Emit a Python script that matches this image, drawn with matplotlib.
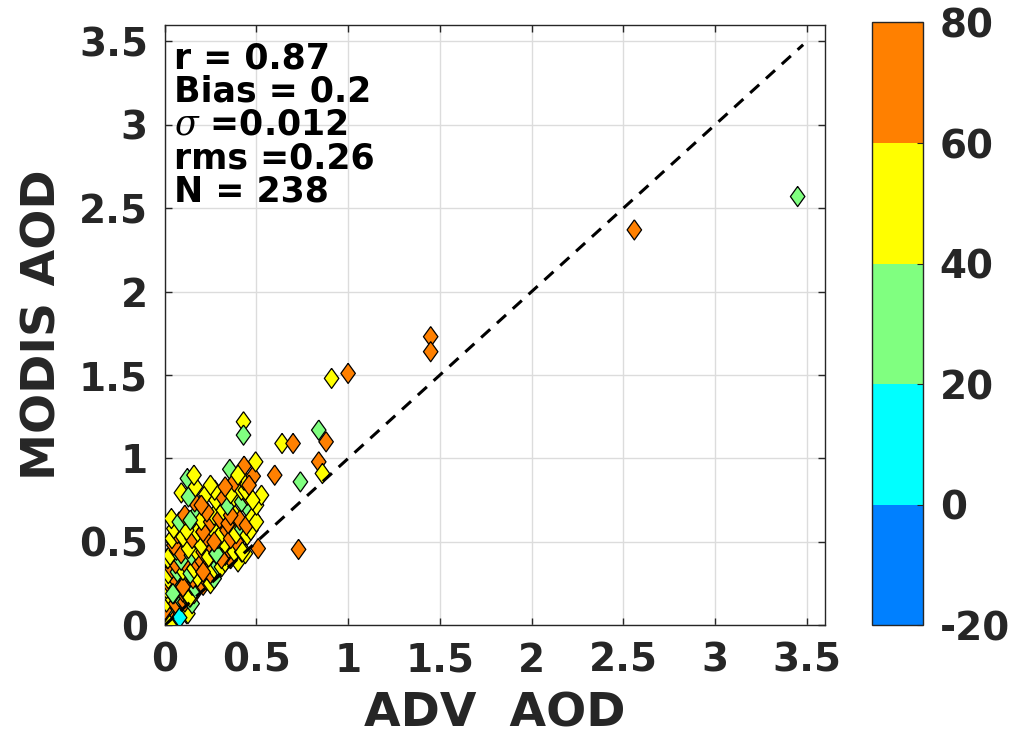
import numpy as np
import matplotlib
matplotlib.use("Agg")
import matplotlib.pyplot as plt
from matplotlib.colors import ListedColormap, BoundaryNorm

# ADV AOD (x), MODIS AOD (y) and colour value
adv_aod = [
    # near the origin
    0.01, 0.02, 0.03, 0.00, 0.05, 0.04, 0.06, 0.10, 0.12, 0.02, 0.07, 0.09, 0.03, 0.127, 0.00, 0.027,
    # 0.1 - 0.2
    0.01, 0.04, 0.06, 0.08, 0.11, 0.13, 0.15, 0.02, 0.05, 0.10, 0.14, 0.16, 0.045, 0.12, 0.137,
    # 0.2 - 0.3
    0.01, 0.03, 0.06, 0.08, 0.10, 0.12, 0.15, 0.17, 0.19, 0.21, 0.23, 0.25, 0.02, 0.05, 0.155, 0.18, 0.27,
    0.045, 0.10,
    # 0.3 - 0.4
    0.02, 0.04, 0.07, 0.10, 0.12, 0.14, 0.16, 0.18, 0.21, 0.23, 0.25, 0.27, 0.29, 0.31, 0.06, 0.09, 0.20,
    0.33, 0.40, 0.015, 0.36, 0.018, 0.21,
    # 0.4 - 0.5
    0.03, 0.064, 0.09, 0.146, 0.17, 0.21, 0.24, 0.26, 0.28, 0.30, 0.33, 0.35, 0.38, 0.42, 0.44, 0.118,
    0.20, 0.328, 0.392, 0.05, 0.13, 0.31, 0.282, 0.424,
    # 0.5 - 0.6
    0.04, 0.07, 0.10, 0.137, 0.15, 0.18, 0.21, 0.23, 0.26, 0.29, 0.31, 0.34, 0.36, 0.39, 0.42, 0.45,
    0.47, 0.12, 0.27, 0.05, 0.21,
    # 0.6 - 0.7
    0.037, 0.08, 0.11, 0.173, 0.20, 0.251, 0.27, 0.30, 0.346, 0.383, 0.41, 0.446, 0.455, 0.48, 0.50,
    0.23, 0.32, 0.14, 0.36,
    # 0.7 - 0.8
    0.091, 0.164, 0.224, 0.343, 0.379, 0.501, 0.528, 0.20, 0.28, 0.31, 0.42, 0.45, 0.48, 0.36, 0.13,
    # 0.8 - 1.0
    0.124, 0.168, 0.273, 0.419, 0.44, 0.433, 0.483, 0.496, 0.433, 0.355, 0.38, 0.40, 0.46, 0.25, 0.33,
    0.16,
    # outside the cluster
    0.43, 0.43, 0.64, 0.70, 0.84, 0.88, 0.84, 0.86, 0.74, 0.60, 0.51, 0.73, 0.91, 1.00, 1.45, 1.45,
    2.56, 3.45,
    # cyan point near the origin
    0.082,
]
modis_aod = [
    0.02, 0.04, 0.01, 0.03, 0.06, 0.09, 0.03, 0.08, 0.07, 0.08, 0.10, 0.12, 0.12, 0.07, 0.09, 0.00,
    0.14, 0.16, 0.13, 0.17, 0.14, 0.16, 0.13, 0.19, 0.19, 0.20, 0.17, 0.19, 0.19, 0.19, 0.17,
    0.22, 0.24, 0.23, 0.26, 0.23, 0.27, 0.24, 0.22, 0.26, 0.24, 0.27, 0.25, 0.28, 0.29, 0.28, 0.29, 0.28,
    0.19, 0.23,
    0.31, 0.34, 0.32, 0.33, 0.36, 0.31, 0.34, 0.37, 0.32, 0.35, 0.31, 0.34, 0.36, 0.35, 0.37, 0.39, 0.39,
    0.38, 0.38, 0.40, 0.40, 0.40, 0.32,
    0.42, 0.45, 0.43, 0.42, 0.45, 0.44, 0.41, 0.47, 0.43, 0.45, 0.42, 0.46, 0.44, 0.44, 0.43, 0.49,
    0.48, 0.49, 0.50, 0.48, 0.46, 0.40, 0.43, 0.44,
    0.52, 0.55, 0.53, 0.59, 0.52, 0.56, 0.56, 0.53, 0.58, 0.52, 0.55, 0.57, 0.52, 0.55, 0.58, 0.54,
    0.57, 0.57, 0.50, 0.58, 0.56,
    0.64, 0.62, 0.66, 0.67, 0.63, 0.62, 0.66, 0.64, 0.61, 0.66, 0.63, 0.60, 0.70, 0.65, 0.62,
    0.68, 0.69, 0.63, 0.66,
    0.794, 0.74, 0.784, 0.72, 0.77, 0.72, 0.78, 0.72, 0.75, 0.78, 0.74, 0.78, 0.75, 0.79, 0.77,
    0.88, 0.83, 0.81, 0.81, 0.81, 0.87, 0.894, 0.98, 0.954, 0.935, 0.86, 0.90, 0.84, 0.84, 0.83,
    0.90,
    1.22, 1.14, 1.09, 1.09, 1.17, 1.10, 0.98, 0.91, 0.86, 0.90, 0.46, 0.455, 1.48, 1.51, 1.73, 1.64,
    2.37, 2.57,
    0.046,
]
colour_value = [
    50, 70, 50, 70, 70, 50, 30, 50, 50, 70, 70, 50, 30, 50, 70, 50,
    50, 70, 70, 30, 70, 50, 30, 50, 30, 70, 50, 70, 30, 70, 50,
    50, 70, 50, 30, 70, 50, 70, 30, 50, 70, 70, 50, 50, 70, 70, 50, 30,
    30, 70,
    50, 70, 30, 50, 70, 30, 50, 70, 50, 70, 70, 50, 30, 50, 70, 30, 70,
    50, 50, 50, 70, 50, 70,
    50, 30, 70, 30, 50, 70, 50, 70, 30, 50, 70, 70, 50, 50, 50, 50,
    50, 50, 70, 70, 50, 70, 30, 50,
    50, 70, 50, 30, 70, 50, 30, 70, 50, 30, 50, 70, 70, 50, 30, 50,
    50, 50, 70, 50, 70,
    50, 30, 70, 30, 50, 70, 50, 70, 70, 50, 70, 70, 30, 50, 50,
    70, 50, 30, 70,
    50, 70, 50, 30, 50, 50, 50, 70, 50, 70, 30, 70, 50, 50, 30,
    30, 50, 50, 50, 50, 50, 70, 50, 70, 30, 70, 50, 70, 50, 70,
    50,
    50, 30, 50, 70, 30, 70, 70, 50, 30, 70, 70, 70, 50, 70, 70, 70,
    70, 30,
    10,
]

stats_lines = ["r = 0.87", "Bias = 0.2", r"$\sigma$ =0.012", "rms =0.26", "N = 238"]
ticks = [0, 0.5, 1, 1.5, 2, 2.5, 3, 3.5]
cbar_ticks = [-20, 0, 20, 40, 60, 80]

cmap = ListedColormap(["#0080ff", "#00ffff", "#80ff80", "#ffff00", "#ff8000"])
norm = BoundaryNorm(cbar_ticks, cmap.N)

plt.rcParams["font.family"] = "DejaVu Sans"
plt.rcParams["font.weight"] = "bold"
plt.rcParams["axes.unicode_minus"] = False
plt.rcParams["mathtext.fontset"] = "custom"
plt.rcParams["mathtext.it"] = "DejaVu Serif:style=italic:weight=normal"
dark = "#262626"

fig = plt.figure(figsize=(10.1, 7.48), dpi=100)
ax = fig.add_axes([0.163, 0.164, 0.654, 0.803])

diamond = [(0, 1), (0.72, 0), (0, -1), (-0.72, 0), (0, 1)]
sc = ax.scatter(adv_aod, modis_aod, c=colour_value, cmap=cmap, norm=norm, marker=diamond,
                s=210, edgecolors="black", linewidths=0.9, zorder=3)

# 1:1 line
ax.plot([0, 3.48], [0, 3.48], color="black", linestyle=(0, (4, 3)), linewidth=2.2, zorder=4)

ax.set_xlim(0, 3.6)
ax.set_ylim(0, 3.6)
ax.set_xticks(ticks)
ax.set_yticks(ticks)
ax.set_xticklabels([f"{t:g}" for t in ticks])
ax.set_yticklabels([f"{t:g}" for t in ticks])
ax.tick_params(direction="in", length=5, width=1, colors=dark, labelsize=28,
               top=True, right=True, pad=12)
for lab in ax.get_xticklabels() + ax.get_yticklabels():
    lab.set_fontweight("bold")
for sp in ax.spines.values():
    sp.set_color(dark)
    sp.set_linewidth(1)
ax.grid(True, color="#dcdcdc", linewidth=1)
ax.set_axisbelow(True)

ax.set_xlabel("ADV  AOD", fontsize=34, fontweight="bold", color=dark, labelpad=8)
ax.set_ylabel("MODIS AOD", fontsize=34, fontweight="bold", color=dark, labelpad=10)

for i, line in enumerate(stats_lines):
    ax.text(0.014, 0.943 - i * 0.055, line, transform=ax.transAxes, fontsize=25,
            fontweight="bold", color="black", va="center", ha="left", zorder=5)

cax = fig.add_axes([0.863, 0.164, 0.051, 0.806])
cb = fig.colorbar(sc, cax=cax, ticks=cbar_ticks)
cb.outline.set_edgecolor(dark)
cb.outline.set_linewidth(1)
cax.tick_params(direction="in", length=4, colors=dark, labelsize=28, pad=12)
cax.set_yticklabels([str(t) for t in cbar_ticks])
for lab in cax.get_yticklabels():
    lab.set_fontweight("bold")

fig.savefig("out.png", dpi=100, facecolor="white")
